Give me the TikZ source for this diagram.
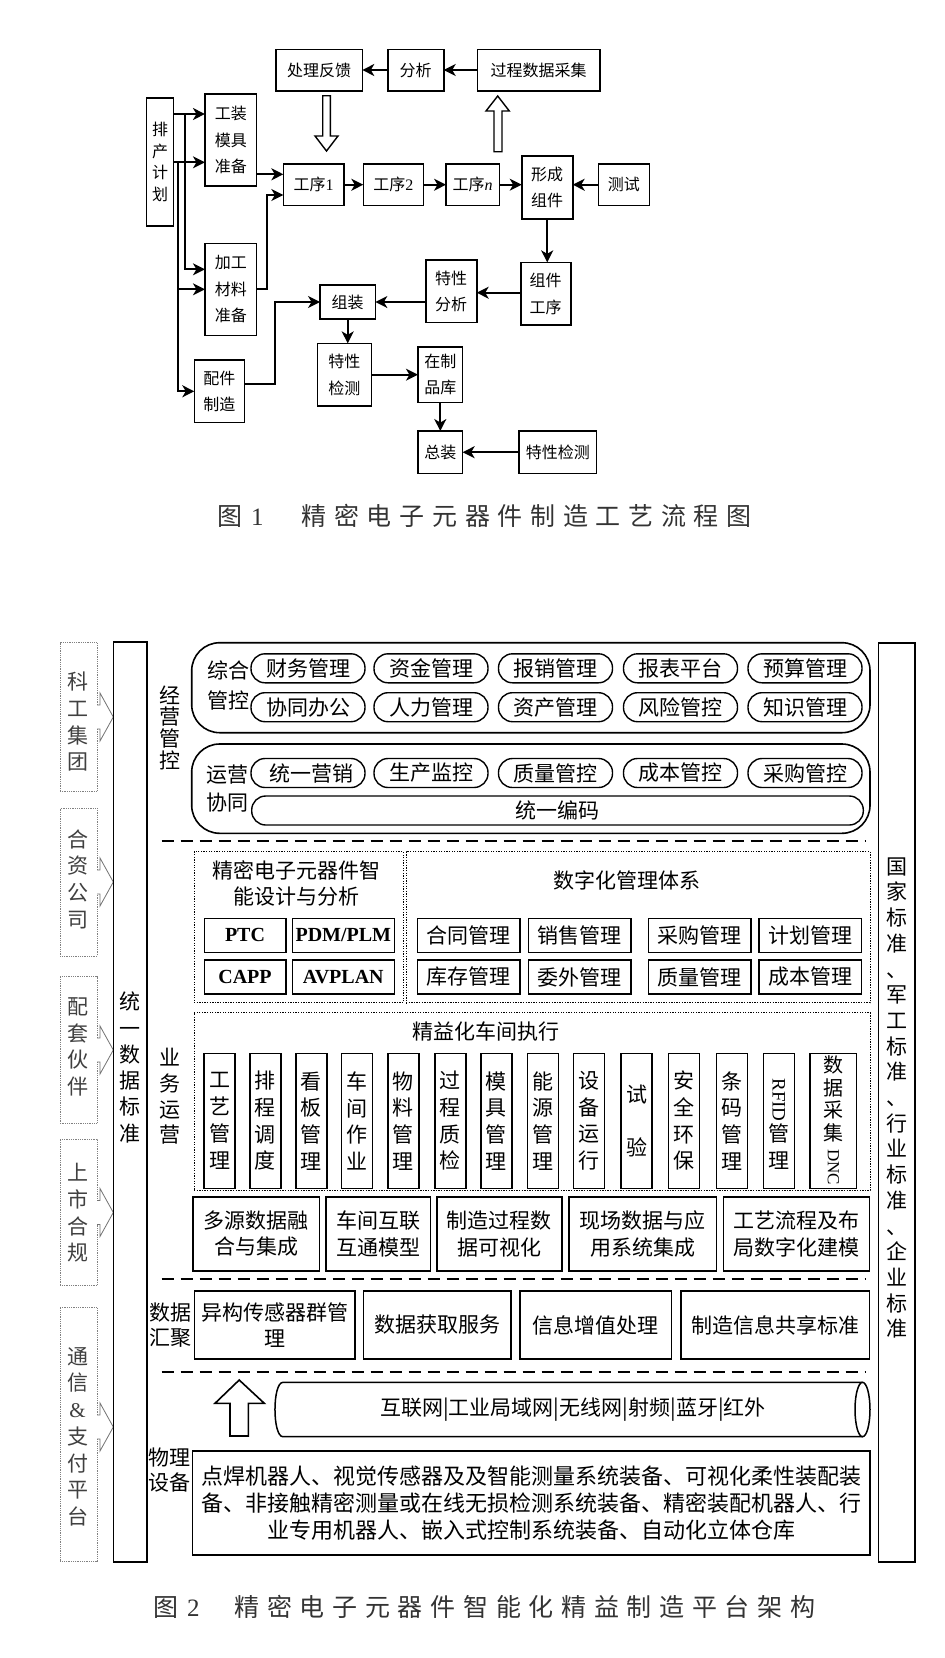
\documentclass[tikz,border=0pt]{standalone}
\usepackage{fontspec}
\newfontfamily\cjk{Noto Sans CJK SC}
\newfontfamily\tnr{Liberation Serif}
\usetikzlibrary{arrows.meta}
\newcommand\fsz[2]{\fontsize{#1}{#2}\selectfont}
\newcommand\spc[1]{\spcA#1\relax}
\def\spcA#1{\ifx\relax#1\else#1\kern7.7pt\expandafter\spcA\fi}
\begin{document}
\begin{tikzpicture}[x=1pt,y=-1pt,
  every node/.style={font=\cjk, inner sep=0pt, outer sep=0pt},
  b1/.style={draw, line width=1.6pt, align=center, font=\cjk\fsz{16}{26.7}},
  arr/.style={line width=1.7pt, -{Stealth[length=12pt,width=12pt,inset=3.5pt]}},
  hol/.style={line width=1.4pt},
  lbox/.style={draw=black!50, line width=0.8pt, densely dotted},
  larr/.style={draw=black!55, line width=0.8pt},
  vt/.style={align=center, font=\cjk\fsz{21}{26.7}},
  fr/.style={draw, line width=1.6pt},
  pill/.style={draw, line width=1.4pt, rounded corners=14pt, minimum width=114, minimum height=29, font=\cjk\fsz{21}{24}},
  dbox/.style={draw, line width=0.9pt, dash pattern=on 1.3pt off 1.3pt},
  dsh/.style={line width=1.3pt, dash pattern=on 12pt off 7pt},
  sbox/.style={draw, line width=1.6pt, minimum height=34, font=\cjk\fsz{21}{24}},
  ebox/.style={draw, line width=1.6pt, minimum height=34, font=\tnr\bfseries\fsz{20}{24}},
  tall/.style={draw, line width=1.6pt, minimum width=31, minimum height=135, align=center, font=\cjk\fsz{21}{26.7}},
  rbox/.style={draw, line width=1.6pt, align=center, font=\cjk\fsz{21}{26.7}},
  capt/.style={anchor=west, font=\cjk\fsz{25}{25}, text=black!80}
]
\fill[white] (0,0) rectangle (945,1658);
\useasboundingbox (0,0) rectangle (945,1658);

% ================= Figure 1 =================
\node[b1, minimum width=26.7, minimum height=127.7, font=\cjk\fsz{16}{21.7}] (pc) at (160,162) {排\\产\\计\\划};
\node[b1, minimum width=51.7, minimum height=92] (gz) at (230.8,140) {工装\\模具\\准备};
\node[b1, minimum width=86.6, minimum height=41.4] (clfk) at (319,70) {处理反馈};
\node[b1, minimum width=56, minimum height=41.4] (fx) at (415.7,70) {分析};
\node[b1, minimum width=122.4, minimum height=41.4] (gc) at (538.5,70) {过程数据采集};
\node[b1, minimum width=60.7, minimum height=41.3] (g1) at (313.7,184.7) {工序{\tnr 1}};
\node[b1, minimum width=60, minimum height=41.3] (g2) at (393.3,184.7) {工序{\tnr 2}};
\node[b1, minimum width=53.3, minimum height=41.3] (gn) at (472.7,184.7) {工序{\tnr\itshape n}};
\node[b1, minimum width=51, minimum height=63] (xc) at (547.2,187.5) {形成\\组件};
\node[b1, minimum width=51, minimum height=41.3] (cs) at (623.8,184.7) {测试};
\node[b1, minimum width=51.7, minimum height=92] (jg) at (230.8,289.3) {加工\\材料\\准备};
\node[b1, minimum width=50, minimum height=62.7] (zjgx) at (545.7,293.7) {组件\\工序};
\node[b1, minimum width=51, minimum height=62.7] (txfx) at (451.2,291.3) {特性\\分析};
\node[b1, minimum width=55.3, minimum height=34] (zz) at (347.7,302) {组装};
\node[b1, minimum width=50, minimum height=62.7] (pj) at (219.3,391.3) {配件\\制造};
\node[b1, minimum width=54, minimum height=62.7] (tj1) at (344.3,374.7) {特性\\检测};
\node[b1, minimum width=44.7, minimum height=55.6] (zk) at (440.3,374.5) {在制\\品库};
\node[b1, minimum width=44.7, minimum height=42.3] (zh) at (440.3,452.2) {总装};
\node[b1, minimum width=77.7, minimum height=42.3] (tj2) at (557.8,452.2) {特性检测};

\coordinate (h1) at (0,114);
\coordinate (h2) at (0,162.3);
\coordinate (h3) at (0,269.3);
\coordinate (h4) at (0,289.3);
\coordinate (h6) at (0,174.3);
\coordinate (h7) at (0,292.7);
\coordinate (h8) at (0,384);
\coordinate (v1) at (185,114);
\coordinate (v2) at (178.3,162.3);
\coordinate (k1) at (266.7,195);
\coordinate (k2) at (275,302);

\draw[arr] (pc.east |- h1) -- (gz.west |- h1);
\draw[arr] (pc.east |- h2) -- (gz.west |- h2);
\draw[arr] (v1) |- (jg.west |- h3);
\draw[arr] (v2) |- (jg.west |- h4);
\draw[arr] (v2) |- (pj.west);
\draw[arr] (gz.east |- h6) -- (g1.west |- h6);
\draw[arr] (jg.east |- h4) -| (k1) -- (g1.west |- k1);
\draw[arr] (g1.east) -- (g2.west);
\draw[arr] (g2.east) -- (gn.west);
\draw[arr] (gn.east) -- (xc.west |- gn.east);
\draw[arr] (cs.west) -- (xc.east |- cs.west);
\draw[arr] (gc.west) -- (fx.east);
\draw[arr] (fx.west) -- (clfk.east);
\draw[arr] (xc.south) -- (xc.south |- zjgx.north);
\draw[arr] (zjgx.west |- h7) -- (txfx.east |- h7);
\draw[arr] (txfx.west |- zz.east) -- (zz.east);
\draw[arr] (pj.east |- h8) -| (k2) -- (zz.west);
\draw[arr] (zz.south) -- (zz.south |- tj1.north);
\draw[arr] (tj1.east) -- (zk.west |- tj1.east);
\draw[arr] (zk.south) -- (zh.north);
\draw[arr] (tj2.west) -- (zh.east);

% hollow arrows
\draw[hol] (322.7,95.7) -- (330.3,95.7) -- (330.3,136) -- (338,136) -- (326.5,151) -- (315,136) -- (322.7,136) -- cycle;
\draw[hol] (494,151.7) -- (502,151.7) -- (502,111) -- (509.3,111) -- (497.7,96) -- (486,111) -- (494,111) -- cycle;

\node[capt] (cap1) at (217,516) {图\kern9pt{\tnr 1}\kern38pt\spc{精密电子元器件制造工艺流程图}};

% ================= Figure 2 =================
% left boxes
\foreach \t/\b/\c in {642.7/791.7/717, 808.3/956/882, 976.7/1123.3/1050, 1139.3/1285.7/1212.5, 1307.3/1561.7/1427}{
  \draw[lbox] (97,\c-12) -- (97,\t) -- (60,\t) -- (60,\b) -- (97,\b) -- (97,\c+12);
  \draw[larr] (97,\c-12) -- (100,\c-12) -- (100,\c-24) -- (113.3,\c) -- (100,\c+24) -- (100,\c+12) -- (97,\c+12);
}
\node[vt, text=black!75] (kg) at (77.5,721.7) {科\\工\\集\\团};
\node[vt, text=black!75] (hz) at (77.5,879) {合\\资\\公\\司};
\node[vt, text=black!75] (pt) at (77.5,1047) {配\\套\\伙\\伴};
\node[vt, text=black!75] (ss) at (77.5,1213) {上\\市\\合\\规};
\node[vt, text=black!75] (tx) at (77.5,1436.7) {通\\信\\{\tnr\&}\\支\\付\\平\\台};

% unified data standard column
\node[fr, minimum width=33.4, minimum height=920] (tysj) at (130,1101.7) {};
\node[vt, font=\cjk\fsz{21}{26.3}] (tysjt) at (130,1067.5) {统\\一\\数\\据\\标\\准};

% right standards column
\node[fr, minimum width=36.7, minimum height=919.3] (bz) at (896.7,1102.35) {};
\node[vt, font=\cjk\fsz{21}{25.7}] (bzt) at (896.7,1098) {国\\家\\标\\准\\、\\军\\工\\标\\准\\、\\行\\业\\标\\准\\、\\企\\业\\标\\准};

% 经营管控
\node[vt, font=\cjk\fsz{21}{21.7}] (jygk) at (170,727.5) {经\\营\\管\\控};
\node[fr, rounded corners=28pt, minimum width=678.3, minimum height=90] (zhgk) at (530.85,687.7) {};
\node[fr, rounded corners=28pt, minimum width=678.3, minimum height=89.3] (yyxt) at (530.85,788.65) {};
\node[align=center, font=\cjk\fsz{21}{30}] (zhl) at (228,685) {综合\\管控};
\node[align=center, font=\cjk\fsz{21}{28}] (yyl) at (227.5,789) {运营\\协同};

\node[pill] (p11) at (308,668.3) {财务管理};
\node[pill] (p12) at (431,668.3) {资金管理};
\node[pill] (p13) at (555.5,668.3) {报销管理};
\node[pill] (p14) at (680.5,668.3) {报表平台};
\node[pill] (p15) at (805,668.3) {预算管理};
\node[pill] (p21) at (308,707.2) {协同办公};
\node[pill] (p22) at (431,707.2) {人力管理};
\node[pill] (p23) at (555.5,707.2) {资产管理};
\node[pill] (p24) at (680.5,707.2) {风险管控};
\node[pill] (p25) at (805,707.2) {知识管理};
\node[pill] (p31) at (308,773) {\kern6pt 统一营销};
\node[pill] (p32) at (431,773) {生产监控};
\node[pill] (p33) at (555.5,773) {质量管控};
\node[pill] (p34) at (680.5,773) {成本管控};
\node[pill] (p35) at (805,773) {采购管控};
\node[pill, minimum width=611.6] (tybm) at (557.5,810.5) {统一编码};

\draw[dsh] (161.7,841) -- (865,841);

% 业务运营
\node[vt, font=\cjk\fsz{21}{25.7}] (ywyy) at (170,1096.5) {业\\务\\运\\营};

\node[dbox, minimum width=209.3, minimum height=151] (sjfx) at (298.65,927.2) {};
\node[dbox, minimum width=464, minimum height=151] (szh) at (638,927.2) {};
\node[dbox, minimum width=676, minimum height=178] (jyh) at (532,1101.7) {};

\node[align=center, font=\cjk\fsz{21}{26.7}] (sjfxt) at (296.7,883.3) {精密电子元器件智\\能设计与分析};
\node[ebox, minimum width=81.4] (ptc) at (245,935.3) {PTC};
\node[ebox, minimum width=102] (pdm) at (343.3,935.3) {PDM/PLM};
\node[ebox, minimum width=81.4] (capp) at (245,977) {CAPP};
\node[ebox, minimum width=102] (avp) at (343.3,977) {AVPLAN};

\node[font=\cjk\fsz{21}{24}] (szht) at (626.7,880) {数字化管理体系};
\node[sbox, minimum width=102.7] (m1) at (468.7,935.3) {合同管理};
\node[sbox, minimum width=102.7] (m2) at (579.7,935.3) {销售管理};
\node[sbox, minimum width=102.4] (m3) at (699.5,935.3) {采购管理};
\node[sbox, minimum width=102.7] (m4) at (810.3,935.3) {计划管理};
\node[sbox, minimum width=102.7] (m5) at (468.7,977) {库存管理};
\node[sbox, minimum width=102.7] (m6) at (579.7,977) {委外管理};
\node[sbox, minimum width=102.4] (m7) at (699.5,977) {质量管理};
\node[sbox, minimum width=102.7] (m8) at (810.3,977) {成本管理};

\node[font=\cjk\fsz{21}{24}] (jyht) at (486,1031.7) {精益化车间执行};
\node[tall] (t1) at (219.7,1120.8) {工\\艺\\管\\理};
\node[tall] (t2) at (265.3,1120.8) {排\\程\\调\\度};
\node[tall] (t3) at (311.3,1120.8) {看\\板\\管\\理};
\node[tall] (t4) at (357,1120.8) {车\\间\\作\\业};
\node[tall] (t5) at (403.3,1120.8) {物\\料\\管\\理};
\node[tall] (t6) at (450.3,1120.8) {过\\程\\质\\检};
\node[tall] (t7) at (496.3,1120.8) {模\\具\\管\\理};
\node[tall] (t8) at (542.8,1120.8) {能\\源\\管\\理};
\node[tall] (t9) at (588.8,1120.8) {设\\备\\运\\行};
\node[tall] (t10) at (636.7,1120.8) {试\\[26.7pt]验};
\node[tall] (t11) at (683.8,1120.8) {安\\全\\环\\保};
\node[tall] (t12) at (732,1120.8) {条\\码\\管\\理};
\node[tall] (t13) at (778.8,1120.8) {};
\node[tall, minimum width=46.7] (t14) at (833.3,1120.8) {};
\node[rotate=-90, font=\tnr\fsz{19}{19}] (rfid) at (778.8,1100) {RFID};
\node[align=center, font=\cjk\fsz{21}{26.7}] (rfidg) at (778.8,1146.5) {管\\理};
\node[align=center, font=\cjk\fsz{20}{22.7}] (sjcj) at (833.3,1099) {数\\据\\采\\集};
\node[rotate=-90, font=\tnr\fsz{17}{17}] (dnc) at (833.3,1167) {DNC};

\node[rbox, minimum width=126.6, minimum height=74] (r1) at (256,1233.7) {多源数据融\\合与集成};
\node[rbox, minimum width=104.7, minimum height=74] (r2) at (378.3,1233.7) {车间互联\\互通模型};
\node[rbox, minimum width=125, minimum height=74] (r3) at (499.2,1233.7) {制造过程数\\据可视化};
\node[rbox, minimum width=147.7, minimum height=74] (r4) at (642.8,1233.7) {现场数据与应\\用系统集成};
\node[rbox, minimum width=146, minimum height=74] (r5) at (796.3,1233.7) {工艺流程及布\\局数字化建模};

\draw[dsh] (161.7,1279) -- (865,1279);

% 数据汇聚
\node[align=center, font=\cjk\fsz{21}{25}] (sjhj) at (170,1325.5) {数据\\汇聚};
\node[rbox, minimum width=160.7, minimum height=68] (d1) at (274.7,1325) {异构传感器群管\\理};
\node[rbox, minimum width=147.7, minimum height=68] (d2) at (437.2,1325) {数据获取服务};
\node[rbox, minimum width=151.7, minimum height=68] (d3) at (595.8,1325) {信息增值处理};
\node[rbox, minimum width=188.3, minimum height=68] (d4) at (775.2,1325) {制造信息共享标准};

\draw[dsh] (161.7,1372) -- (865,1372);

% network tube and arrow
\draw[hol, line width=1.6pt] (230,1436) -- (248.3,1436) -- (248.3,1403.3) -- (264.3,1403.3) -- (239.2,1380) -- (215,1403.3) -- (230,1403.3) -- cycle;
\draw[line width=1.5pt] (862.5,1382.3) -- (283,1382.3) .. controls (272.3,1382.3) and (272.3,1436.7) .. (283,1436.7) -- (862.5,1436.7);
\draw[line width=1.5pt] (862.5,1409.5) ellipse [x radius=7.5, y radius=27.2];
\node[font=\cjk\fsz{21}{24}] (net) at (573,1410) {互联网|工业局域网|无线网|射频|蓝牙|红外};

% 物理设备
\node[align=center, font=\cjk\fsz{21}{25}] (wlsb) at (169.5,1470.5) {物理\\设备};
\node[rbox, minimum width=677.3, minimum height=104, font=\cjk\fsz{22}{26.7}] (wl) at (531.3,1503) {点焊机器人、视觉传感器及及智能测量系统装备、可视化柔性装配装\\备、非接触精密测量或在线无损检测系统装备、精密装配机器人、行\\业专用机器人、嵌入式控制系统装备、自动化立体仓库};

\node[capt] (cap2) at (153,1607) {图\kern9pt{\tnr 2}\kern35pt\spc{精密电子元器件智能化精益制造平台架构}};
\end{tikzpicture}
\end{document}
